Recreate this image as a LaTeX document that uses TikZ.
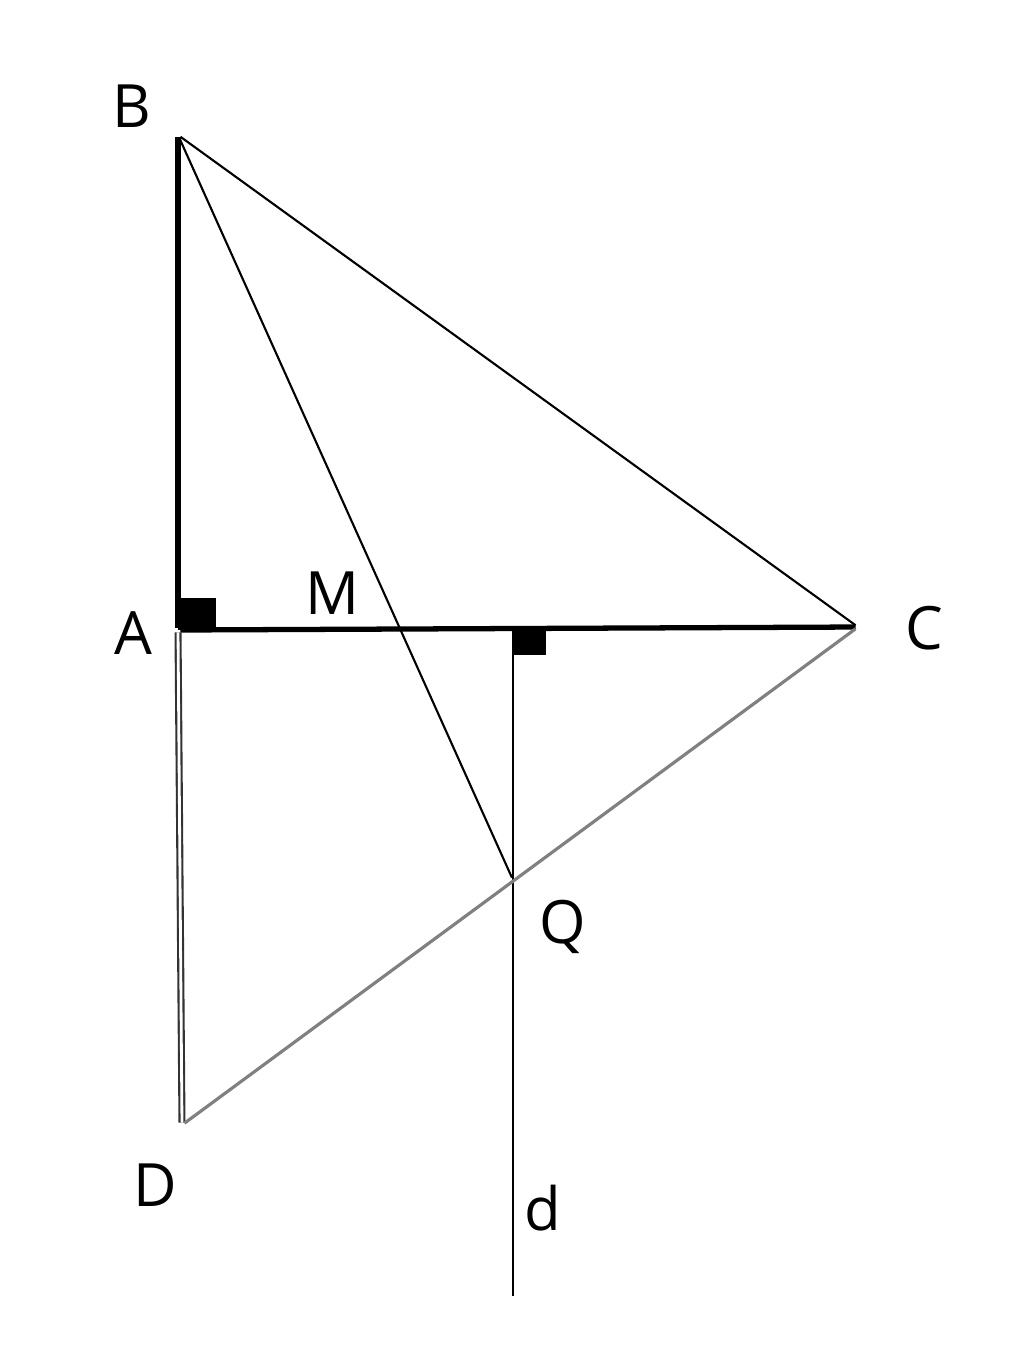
\documentclass[tikz,border=0pt]{standalone}
\usepackage{fontspec}
\setmainfont{Open Sans}
\pgfdeclarelayer{edgelayer}
\pgfdeclarelayer{nodelayer}
\pgfsetlayers{edgelayer,nodelayer,main}
\tikzstyle{vertex}=[inner sep=0pt]
\tikzstyle{point_label}=[inner sep=0pt,font=\fontsize{17}{20}\selectfont]
\tikzstyle{thick_side}=[draw=black,line width=1.5pt]
\tikzstyle{thin_side}=[draw=black,line width=0.6pt]
\tikzstyle{grey_side}=[draw=black!50,line width=0.9pt]
\tikzstyle{grey_double}=[draw=black!80,line width=0.6pt,double=white,double distance=0.8pt]
\tikzstyle{right_angle}=[fill=black]

\begin{document}
\begin{tikzpicture}
	\useasboundingbox (0,0) rectangle (10.24,-13.56);
	\begin{pgfonlayer}{nodelayer}
		\node [style=vertex] (0) at (1.78, -1.35) {};
		\node [style=vertex] (1) at (1.78, -6.30) {};
		\node [style=vertex] (2) at (8.58, -6.27) {};
		\node [style=vertex] (3) at (1.82, -11.25) {};
		\node [style=vertex] (4) at (5.13, -8.80) {};
		\node [style=vertex] (5) at (5.13, -6.25) {};
		\node [style=vertex] (6) at (5.13, -12.98) {};
		\node [style=point_label] (7) at (1.32, -1.06) {B};
		\node [style=point_label] (8) at (1.33, -6.33) {A};
		\node [style=point_label] (9) at (9.24, -6.28) {C};
		\node [style=point_label] (10) at (3.32, -5.93) {M};
		\node [style=point_label] (11) at (5.63, -9.27) {Q};
		\node [style=point_label] (12) at (1.55, -11.85) {D};
		\node [style=point_label] (13) at (5.43, -12.08) {d};
	\end{pgfonlayer}
	\begin{pgfonlayer}{edgelayer}
		\fill [style=right_angle] (1.78, -5.98) rectangle (2.16, -6.30);
		\fill [style=right_angle] (5.14, -6.28) rectangle (5.46, -6.55);
		\draw [style=thick_side] (0) to (1);
		\draw [style=thick_side] (1) to (2);
		\draw [style=thin_side] (0) to (2);
		\draw [style=thin_side] (0) to (4);
		\draw [style=thin_side] (5) to (6);
		\draw [style=grey_double] (1) to (3);
		\draw [style=grey_side] (3) to (2);
	\end{pgfonlayer}
\end{tikzpicture}
\end{document}
